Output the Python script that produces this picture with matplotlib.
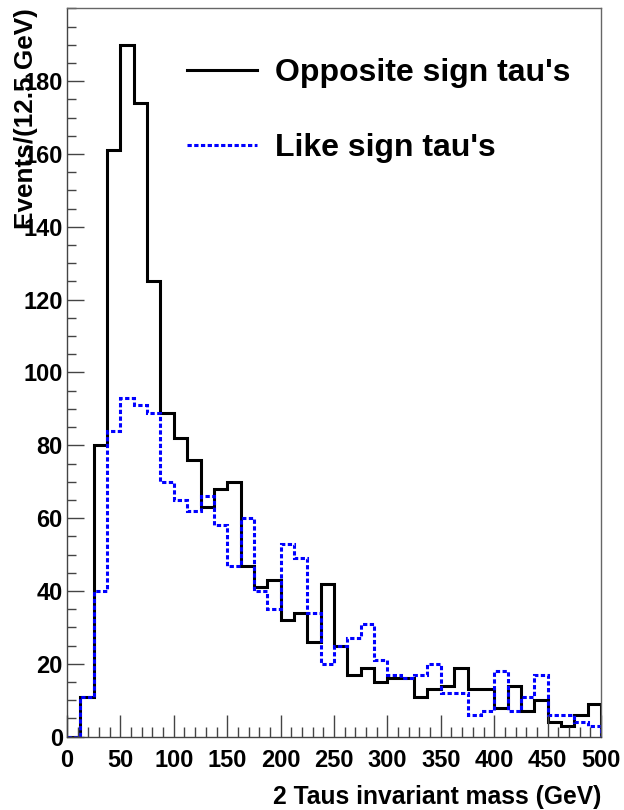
import numpy as np
import matplotlib
matplotlib.use("Agg")
import matplotlib.pyplot as plt
from matplotlib.ticker import MultipleLocator

# ---- data ----
bin_width = 12.5
x_min, x_max = 0.0, 500.0
opposite_sign = [0, 11, 80, 161, 190, 174, 125, 89, 82, 76,
                 63, 68, 70, 47, 41, 43, 32, 34, 26, 42,
                 25, 17, 19, 15, 16, 16, 11, 13, 14, 19,
                 13, 13, 8, 14, 7, 10, 4, 3, 6, 9]
like_sign = [0, 11, 40, 84, 93, 91, 89, 70, 65, 62,
             66, 58, 47, 60, 40, 35, 53, 49, 34, 20,
             25, 27, 31, 21, 17, 16, 17, 20, 12, 12,
             6, 7, 18, 7, 11, 17, 6, 6, 4, 3]
labels = ["Opposite sign tau's", "Like sign tau's"]
xlabel = "2 Taus invariant mass (GeV)"
ylabel = "Events/(12.5 GeV)"

edges = np.arange(x_min, x_max + bin_width / 2, bin_width)

plt.rcParams['font.family'] = ['Liberation Sans', 'DejaVu Sans']
plt.rcParams['font.weight'] = 'bold'

W, H = 624, 810
fig = plt.figure(figsize=(W / 100, H / 100), dpi=100)
ax = fig.add_axes([67 / W, 1 - 736.7 / H, (601 - 67) / W, (736.7 - 8.3) / H])

h1 = ax.stairs(opposite_sign, edges, baseline=0, color='black', linewidth=2.2,
               label=labels[0])
h2 = ax.stairs(like_sign, edges, baseline=0, color='#0000ff', linewidth=2.2,
               linestyle=(0, (1.4, 0.8)), label=labels[1])

ax.set_xlim(x_min, x_max)
ax.set_ylim(0, 200)

ax.xaxis.set_major_locator(MultipleLocator(50))
ax.xaxis.set_minor_locator(MultipleLocator(10))
ax.yaxis.set_major_locator(MultipleLocator(20))
ax.yaxis.set_minor_locator(MultipleLocator(5))
ax.set_yticks(np.arange(0, 181, 20))
ax.tick_params(axis='both', which='both', direction='in', color='#444444', width=1.0,
               labelsize=17)
ax.tick_params(axis='x', which='major', length=16, pad=9)
ax.tick_params(axis='x', which='minor', length=7.5)
ax.tick_params(axis='y', which='major', length=12.5, pad=3)
ax.tick_params(axis='y', which='minor', length=6.5)
for lab in ax.get_xticklabels() + ax.get_yticklabels():
    lab.set_fontweight('bold')

for side in ['left', 'bottom']:
    ax.spines[side].set_color('#444444')
    ax.spines[side].set_linewidth(1.0)
for side in ['top', 'right']:
    ax.spines[side].set_color('#666666')
    ax.spines[side].set_linewidth(1.0)

fig.text(26 / W, 1 - 8 / H, ylabel, rotation=90, ha='center', va='top',
         fontsize=18.8, fontweight='bold')
fig.text(601 / W, 1 - 797 / H, xlabel, ha='right', va='center',
         fontsize=17.7, fontweight='bold')

leg = ax.legend(handles=[h1, h2], loc='upper left',
                bbox_to_anchor=(187 / W, 1 - 58 / H), bbox_transform=fig.transFigure,
                frameon=False, fontsize=23, handlelength=2.2, handletextpad=0.55,
                labelspacing=1.42, borderpad=0, borderaxespad=0)
for t in leg.get_texts():
    t.set_fontweight('bold')

fig.savefig('out.png', dpi=100, facecolor='white')
